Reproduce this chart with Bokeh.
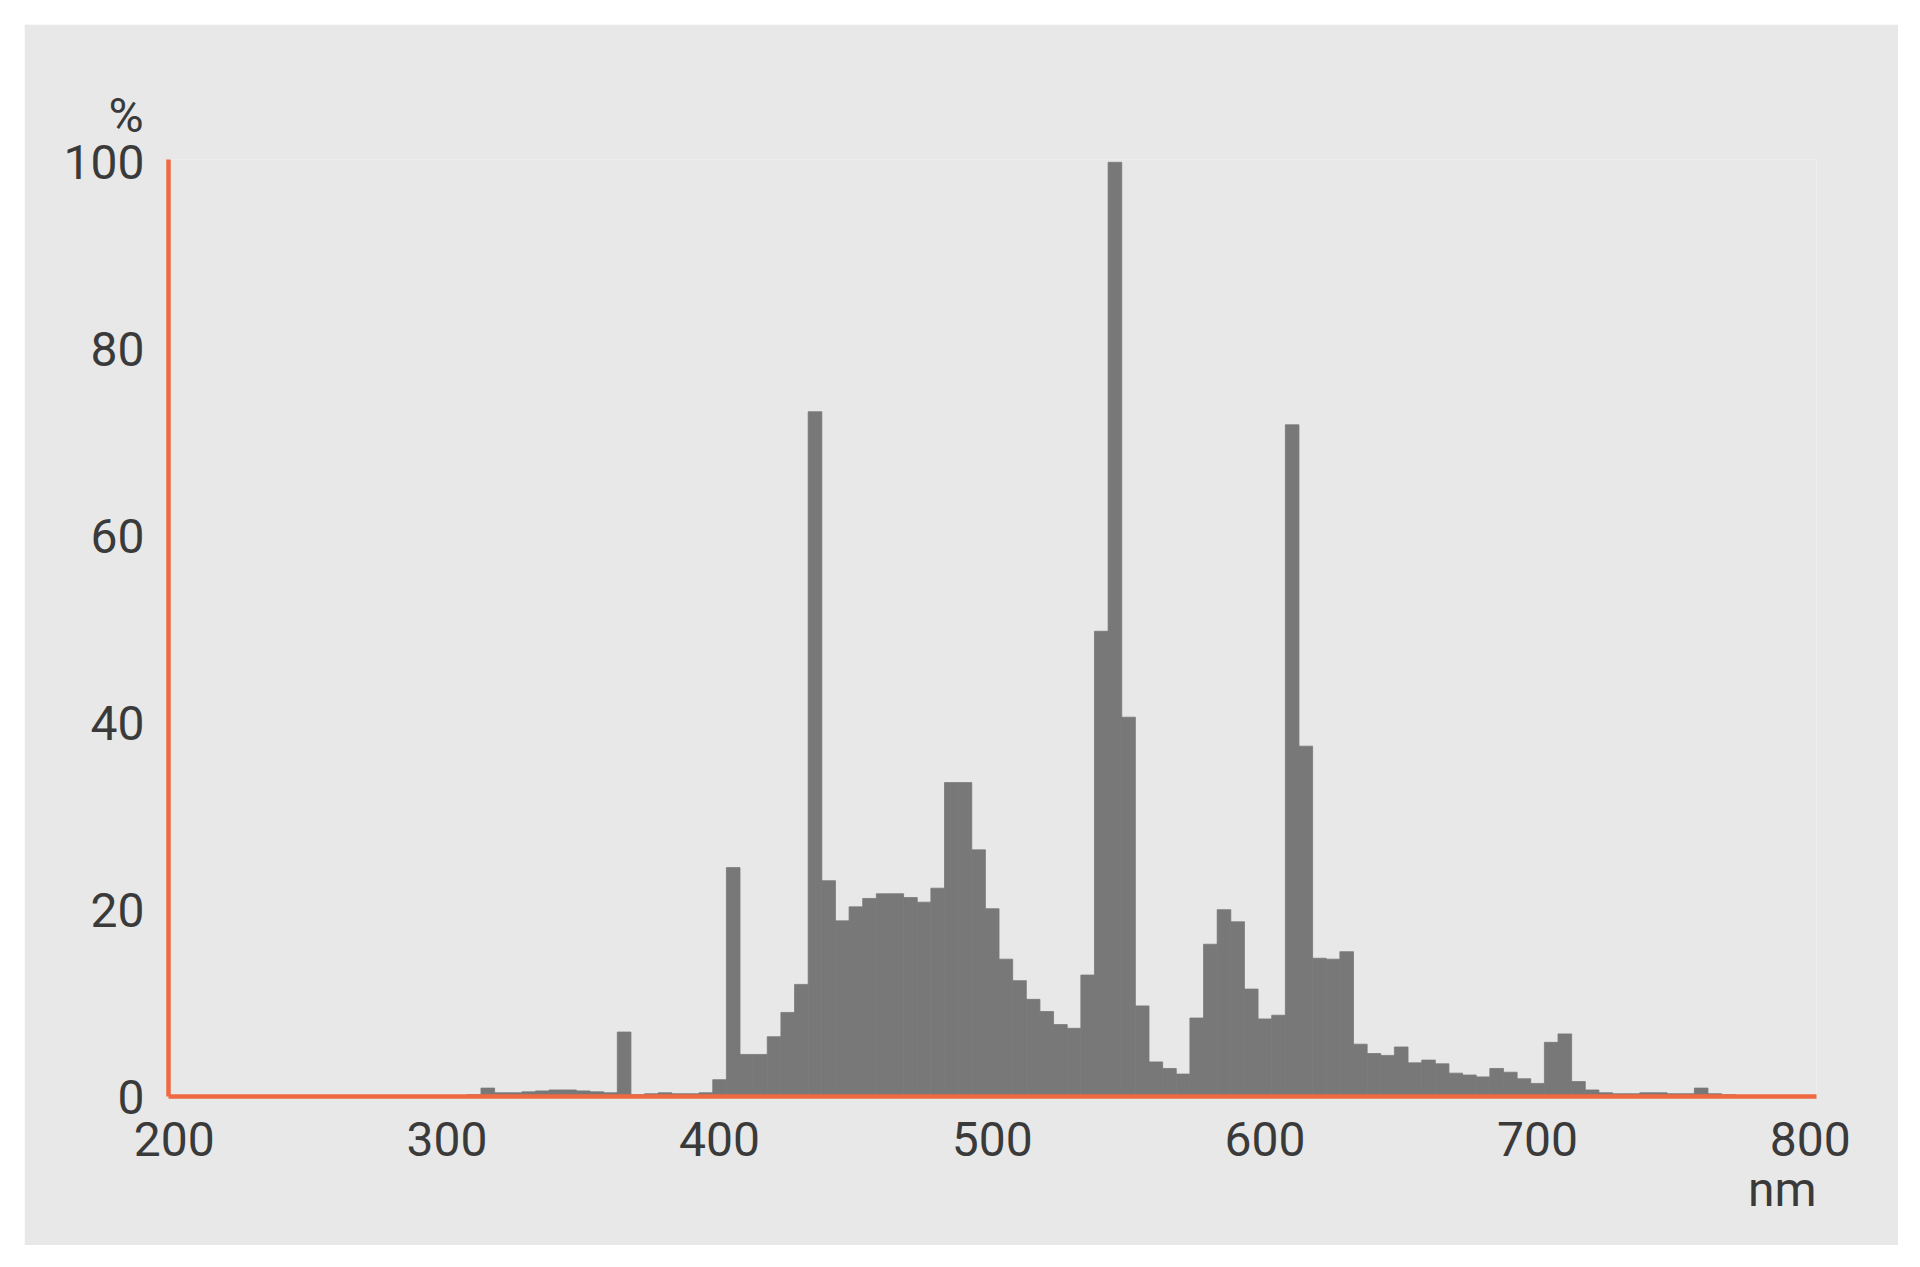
from bokeh.plotting import figure
from bokeh.models import Range1d, FixedTicker, Title
from bokeh.embed import file_html
from bokeh.resources import INLINE

# Spectral distribution, 5 nm bins (nm) and relative intensity (%)
wavelengths = list(range(310, 780, 5))
intensity = [
    0.2, 0.9, 0.4, 0.4, 0.5, 0.6, 0.7, 0.7, 0.6, 0.5,      # 310-355
    0.4, 6.9, 0.2, 0.3, 0.4, 0.3, 0.3, 0.4, 1.8, 24.5,     # 360-405
    4.5, 4.5, 6.4, 9.0, 12.0, 73.3, 23.1, 18.8, 20.3, 21.2,  # 410-455
    21.7, 21.7, 21.3, 20.8, 22.3, 33.6, 33.6, 26.4, 20.1, 14.7,  # 460-505
    12.4, 10.4, 9.1, 7.7, 7.3, 13.0, 49.8, 100.0, 40.6, 9.7,   # 510-555
    3.7, 3.0, 2.4, 8.4, 16.3, 20.0, 18.7, 11.5, 8.3, 8.7,      # 560-605
    71.9, 37.5, 14.8, 14.7, 15.5, 5.6, 4.6, 4.4, 5.3, 3.6,     # 610-655
    3.9, 3.5, 2.5, 2.3, 2.1, 3.0, 2.6, 1.9, 1.4, 5.8,          # 660-705
    6.7, 1.6, 0.7, 0.4, 0.3, 0.3, 0.4, 0.4, 0.3, 0.3,          # 710-755
    0.9, 0.3, 0.2, 0.1,                                        # 760-775
]
x_ticks = [200, 300, 400, 500, 600, 700, 800]
y_ticks = [0, 20, 40, 60, 80, 100]
x_unit = "nm"
y_unit = "%"

FONT = "Roboto"
FSIZE = "48px"
TEXT = "#3a3a3a"
ORANGE = "#EF6A42"
BG = "#E8E8E8"
BAR = "#787878"

p = figure(width=1874, height=1221,
           x_range=Range1d(197.9, 802.3), y_range=Range1d(0, 100.3),
           output_backend="svg", toolbar_location=None,
           min_border_left=144, min_border_right=82,
           min_border_top=135, min_border_bottom=149)
p.margin = (24, 0, 0, 24)
p.background_fill_color = BG
p.border_fill_color = BG
p.outline_line_color = None
p.xgrid.visible = False
p.ygrid.visible = False

p.vbar(x=wavelengths, top=intensity, width=5, bottom=0,
       fill_color=BAR, line_color=BAR, line_width=0.8)

for ax in (p.xaxis[0], p.yaxis[0]):
    ax.axis_line_color = ORANGE
    ax.axis_line_width = 4.5
    ax.major_tick_line_color = None
    ax.minor_tick_line_color = None
    ax.major_tick_out = 0
    ax.major_tick_in = 0
    ax.major_label_text_font = FONT
    ax.major_label_text_font_size = FSIZE
    ax.major_label_text_color = TEXT

p.xaxis.ticker = FixedTicker(ticks=x_ticks)
p.yaxis.ticker = FixedTicker(ticks=y_ticks)
p.xaxis.major_label_standoff = 25
p.yaxis.major_label_standoff = 24

t_pct = Title(text=y_unit, align="left", offset=-60, standoff=32,
              vertical_align="bottom", text_font=FONT, text_font_size=FSIZE,
              text_color=TEXT, text_font_style="normal")
p.add_layout(t_pct, "above")
t_nm = Title(text=x_unit, align="right", offset=0, standoff=5,
             vertical_align="top", text_font=FONT, text_font_size=FSIZE,
             text_color=TEXT, text_font_style="normal")
p.add_layout(t_nm, "below")

open("out.html", "w").write(file_html(p, INLINE))
